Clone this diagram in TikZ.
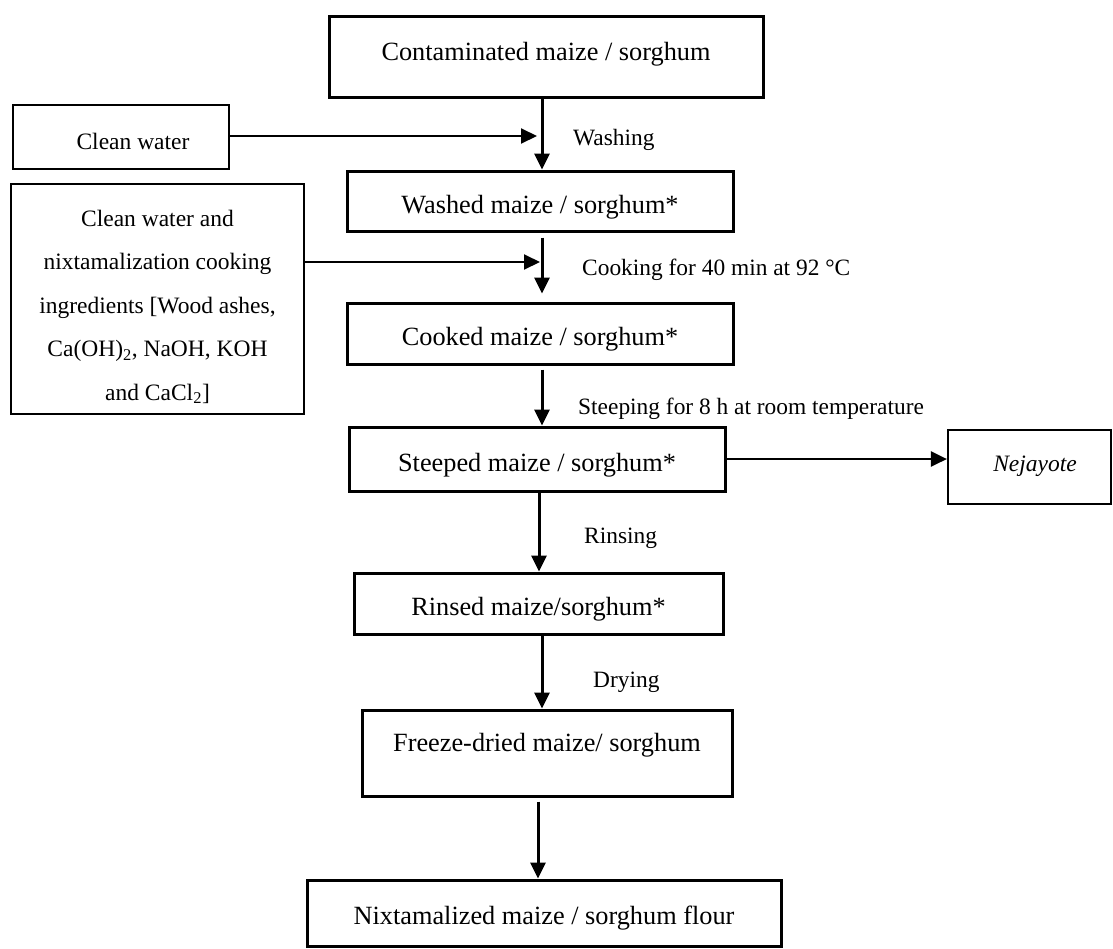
\documentclass[tikz,border=0pt]{standalone}
\usepackage{fontspec}
\setmainfont{Liberation Serif}
\usetikzlibrary{arrows.meta,calc}
\tikzset{
  mainbox/.style={draw, line width=3pt, font=\fontsize{26.3}{31}\selectfont, inner sep=0pt, text depth=0pt},
  sidebox/.style={draw, line width=2.2pt, font=\fontsize{23.5}{28}\selectfont, inner sep=0pt},
  lbl/.style={anchor=west, font=\fontsize{23.4}{28}\selectfont, inner sep=0pt, text height=15.6pt, text depth=0pt},
  varr/.style={line width=3pt, -{Triangle[length=16pt,width=15pt]}},
  harr/.style={line width=2pt, -{Triangle[length=16pt,width=15pt]}},
}
\begin{document}
\begin{tikzpicture}[x=1pt,y=-1pt]
\useasboundingbox (0,0) rectangle (1113,948);
% main column
\node[mainbox, minimum width=434pt, minimum height=81pt, text height=17.4pt, text depth=9pt] (cont) at (546,56.5) {Contaminated maize / sorghum};
\node[mainbox, minimum width=386pt, minimum height=60pt, text height=25.4pt] (washed) at (540,201) {Washed maize / sorghum*};
\node[mainbox, minimum width=386pt, minimum height=61pt, text height=24.4pt] (cooked) at (540,333.5) {Cooked maize / sorghum*};
\node[mainbox, minimum width=376pt, minimum height=64pt, text height=25.4pt] (steeped) at (537,459) {Steeped maize / sorghum*};
\node[mainbox, minimum width=369pt, minimum height=61pt, text height=24.4pt] (rinsed) at (538.5,603.5) {Rinsed maize/sorghum*};
\node[mainbox, minimum width=370pt, minimum height=86pt, text height=17.4pt, text depth=20pt] (freeze) at (547,753) {Freeze-dried maize/ sorghum};
\node[mainbox, minimum width=474pt, minimum height=66pt, text height=23.4pt] (nixt) at (544,913) {Nixtamalized maize / sorghum flour};
% side boxes
\node[sidebox, minimum width=216pt, minimum height=64pt, text height=25.6pt, text depth=0pt] (clean) at (121,137) {\hspace*{24pt}Clean water};
\node[sidebox, line width=2pt, minimum width=293pt, minimum height=230pt, align=center, font=\fontsize{23.5}{43.5}\selectfont] (ingred) at (157.5,299) {\rule{0pt}{32pt}Clean water and\\nixtamalization cooking\\ingredients [Wood ashes,\\Ca(OH)\textsubscript{2}, NaOH, KOH\\and CaCl\textsubscript{2}]};
\node[sidebox, minimum width=163pt, minimum height=74pt, text height=15.6pt, text depth=6pt] (nej) at (1029.5,467) {\hspace*{11pt}\textit{Nejayote}};
% labels
\node[lbl] (l1) at (573,138) {Washing};
\node[lbl] (l2) at (582,268) {Cooking for 40 min at 92 °C};
\node[lbl] (l3) at (578,407) {Steeping for 8 h at room temperature};
\node[lbl] (l4) at (584,536) {Rinsing};
\node[lbl] (l5) at (593,680) {Drying};
% coordinates
\coordinate (xA) at (542,0);
\coordinate (xB) at (539,0);
\coordinate (xC) at (538,0);
\coordinate (w1) at (537,136);
\coordinate (w2) at (540,262);
% connectors
\draw[varr] (cont.south -| xA) -- (washed.north -| xA);
\draw[harr] (clean.east |- w1) -- (w1);
\draw[varr] ($(washed.south -| xA)+(0,-5pt)$) -- ($(cooked.north -| xA)+(0,8pt)$);
\draw[harr] (ingred.east |- w2) -- (w2);
\draw[varr] ($(cooked.south -| xA)+(0,-4pt)$) -- (steeped.north -| xA);
\draw[line width=2.6pt, -{Triangle[length=16pt,width=15pt]}] (steeped.east) -- (nej.west |- steeped.east);
\draw[varr] (steeped.south -| xB) -- (rinsed.north -| xB);
\draw[varr] (rinsed.south -| xA) -- (freeze.north -| xA);
\draw[varr] ($(freeze.south -| xC)+(0,-4pt)$) -- (nixt.north -| xC);
\end{tikzpicture}
\end{document}
